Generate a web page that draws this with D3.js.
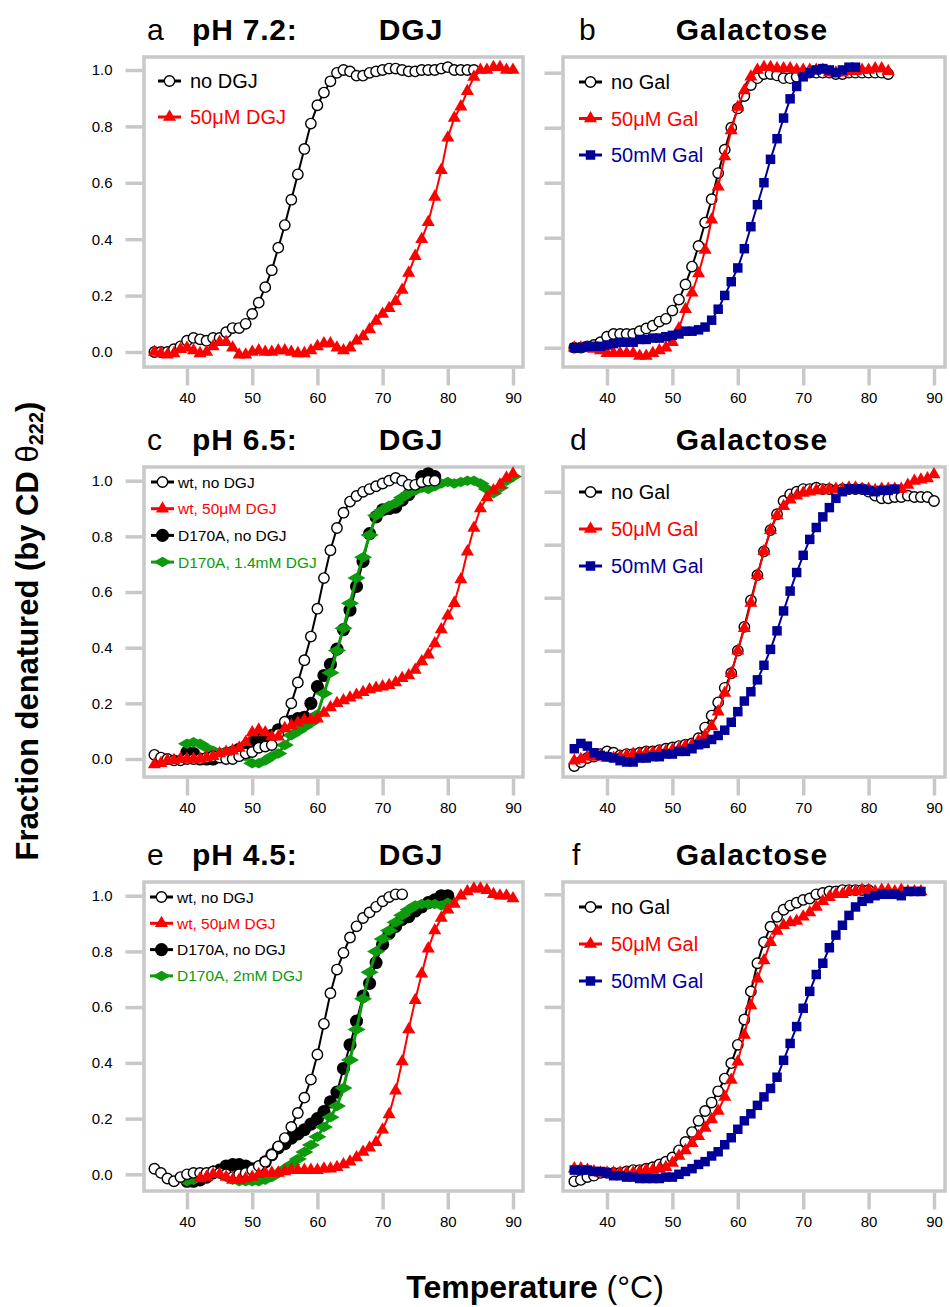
<!DOCTYPE html>
<html>
<head>
<meta charset="utf-8">
<script src="https://cdn.jsdelivr.net/npm/d3@7"></script>
<style>
  body { margin: 0; background: #fff; }
  svg { display: block; font-family: 'Liberation Sans', Arial, Helvetica, sans-serif; }
</style>
</head>
<body>
<svg id="chart" width="950" height="1307"></svg>
<script>
// Data: fraction denatured, one reading per degree C from the given start temperature

// a: pH 7.2, DGJ
const aNoDGJ = [0.00, 0.00, 0.00, 0.01, 0.02, 0.04, 0.05, 0.045, 0.04, 0.05,
  0.05, 0.07, 0.085, 0.085, 0.10, 0.135, 0.175, 0.23, 0.29, 0.37,
  0.45, 0.54, 0.63, 0.72, 0.81, 0.875, 0.92, 0.96, 0.99, 1.00,
  0.995, 0.98, 0.98, 0.99, 0.995, 1.00, 1.005, 1.005, 1.00, 0.995,
  0.995, 1.00, 1.00, 1.00, 1.005, 1.01, 1.00, 1.00, 1.00, 1.00]
const aDGJ50uM = [0.00, -0.005, -0.01, -0.005, 0.01, 0.015, 0.005, -0.005, 0.00, 0.02,
  0.035, 0.035, 0.015, -0.01, -0.01, 0.00, 0.005, 0.00, 0.00, 0.005,
  0.005, 0.00, -0.005, -0.005, 0.005, 0.02, 0.03, 0.03, 0.015, 0.005,
  0.015, 0.04, 0.055, 0.08, 0.11, 0.135, 0.155, 0.18, 0.22, 0.28,
  0.34, 0.40, 0.46, 0.55, 0.645, 0.76, 0.83, 0.87, 0.925, 0.975,
  1.00, 1.00, 1.01, 1.01, 1.00, 1.00]

// b: pH 7.2, galactose
const bNoGal = [0.00, 0.00, 0.005, 0.01, 0.02, 0.04, 0.05, 0.05, 0.05, 0.05,
  0.06, 0.07, 0.08, 0.095, 0.105, 0.135, 0.175, 0.23, 0.295, 0.37,
  0.455, 0.54, 0.635, 0.72, 0.80, 0.87, 0.915, 0.955, 0.98, 0.995,
  0.995, 0.99, 0.98, 0.98, 0.985, 0.995, 1.00, 1.00, 1.00, 1.00,
  0.995, 0.995, 1.00, 1.00, 1.00, 1.00, 1.00, 1.00, 0.995]
const bGal50uM = [0.00, 0.00, 0.00, -0.005, -0.01, -0.02, -0.02, -0.02, -0.02, -0.02,
  -0.03, -0.03, -0.02, -0.01, 0.00, 0.02, 0.07, 0.14, 0.20, 0.27,
  0.355, 0.465, 0.585, 0.695, 0.79, 0.875, 0.935, 0.985, 1.01, 1.02,
  1.02, 1.015, 1.015, 1.015, 1.01, 1.01, 1.01, 1.01, 1.01, 1.00,
  1.00, 1.00, 1.005, 1.005, 1.01, 1.01, 1.015, 1.015, 1.005]
const bGal50mM = [0.00, 0.00, 0.005, 0.005, 0.005, 0.01, 0.015, 0.02, 0.02, 0.02,
  0.03, 0.03, 0.035, 0.035, 0.04, 0.045, 0.05, 0.06, 0.06, 0.065,
  0.075, 0.10, 0.14, 0.19, 0.24, 0.29, 0.36, 0.44, 0.52, 0.60,
  0.685, 0.76, 0.835, 0.905, 0.95, 0.985, 1.00, 1.01, 1.015, 1.01,
  1.00, 1.01, 1.02, 1.02]

// c: pH 6.5, DGJ
const cWtNoDGJ = [0.015, 0.005, 0.00, -0.005, -0.005, 0.00, 0.00, 0.00, 0.005, 0.01,
  0.005, 0.00, 0.00, 0.01, 0.02, 0.025, 0.04, 0.045, 0.05, 0.09,
  0.134, 0.20, 0.275, 0.355, 0.44, 0.54, 0.65, 0.75, 0.83, 0.885,
  0.925, 0.945, 0.96, 0.97, 0.98, 0.99, 1.00, 1.01, 1.00, 0.985,
  0.985, 0.995, 1.00, 1.00]
const cWtDGJ50uM = [-0.02, -0.015, -0.005, -0.005, 0.00, 0.00, 0.00, 0.00, 0.005, 0.01,
  0.02, 0.025, 0.03, 0.04, 0.06, 0.095, 0.105, 0.095, 0.08, 0.08,
  0.11, 0.12, 0.13, 0.14, 0.14, 0.145, 0.165, 0.185, 0.20, 0.21,
  0.22, 0.23, 0.24, 0.25, 0.255, 0.26, 0.265, 0.275, 0.29, 0.30,
  0.32, 0.35, 0.375, 0.415, 0.465, 0.515, 0.56, 0.645, 0.745, 0.83,
  0.90, 0.94, 0.965, 0.985, 1.01, 1.025]
const cD170ANoDGJ = [0.025, 0.02, 0.00, 0.00, 0.00, 0.015, 0.02, 0.025, 0.035, 0.045,
  0.06, 0.07, 0.075, 0.085, 0.105, 0.12, 0.135, 0.145, 0.15, 0.20,
  0.26, 0.30, 0.34, 0.395, 0.465, 0.535, 0.62, 0.71, 0.81, 0.87,
  0.895, 0.90, 0.905, 0.93, 0.95, 0.975, 1.015, 1.025, 1.015]
const cD170ADGJ14mM = [0.055, 0.06, 0.055, 0.04, 0.03, 0.02, 0.025, 0.03, 0.025, 0.01,
  -0.015, -0.015, -0.005, 0.01, 0.02, 0.05, 0.085, 0.10, 0.115, 0.13,
  0.16, 0.235, 0.31, 0.39, 0.47, 0.56, 0.65, 0.725, 0.805, 0.875,
  0.895, 0.91, 0.92, 0.94, 0.955, 0.965, 0.975, 0.97, 0.98, 0.99,
  0.995, 0.99, 0.995, 1.00, 1.00, 0.99, 0.97, 0.955, 0.975, 1.00,
  1.015]

// d: pH 6.5, galactose
const dNoGal = [-0.035, -0.02, -0.005, 0.00, 0.01, 0.02, 0.015, 0.005, 0.01, 0.01,
  0.015, 0.02, 0.02, 0.025, 0.03, 0.035, 0.04, 0.045, 0.05, 0.07,
  0.11, 0.155, 0.205, 0.26, 0.315, 0.40, 0.49, 0.59, 0.685, 0.775,
  0.855, 0.915, 0.965, 0.99, 1.00, 1.01, 1.01, 1.015, 1.01, 1.01,
  1.005, 1.01, 1.01, 1.01, 1.01, 1.00, 0.985, 0.975, 0.975, 0.98,
  0.98, 0.985, 0.98, 0.98, 0.98, 0.965]
const dGal50uM = [-0.015, -0.01, 0.00, 0.00, 0.00, -0.005, -0.005, 0.00, 0.005, 0.01,
  0.01, 0.015, 0.015, 0.02, 0.02, 0.025, 0.03, 0.04, 0.045, 0.06,
  0.08, 0.115, 0.17, 0.24, 0.315, 0.40, 0.485, 0.58, 0.685, 0.775,
  0.855, 0.91, 0.945, 0.97, 0.985, 0.995, 1.00, 1.005, 1.005, 1.01,
  1.01, 1.01, 1.015, 1.015, 1.01, 1.01, 1.005, 1.01, 1.01, 1.01,
  1.01, 1.025, 1.04, 1.045, 1.05, 1.065]
const dGal50mM = [0.03, 0.05, 0.04, 0.015, 0.005, 0.00, -0.005, -0.015, -0.02, -0.02,
  -0.005, -0.005, 0.00, 0.00, 0.01, 0.01, 0.02, 0.02, 0.03, 0.045,
  0.05, 0.065, 0.08, 0.10, 0.13, 0.17, 0.21, 0.245, 0.29, 0.345,
  0.405, 0.475, 0.55, 0.625, 0.695, 0.76, 0.82, 0.865, 0.905, 0.94,
  0.975, 1.00, 1.01, 1.01, 1.01, 1.005, 1.00, 1.005, 1.005, 1.01]

// e: pH 4.5, DGJ
const eWtNoDGJ = [0.02, 0.005, -0.015, -0.025, -0.01, 0.00, 0.005, 0.005, 0.005, 0.01,
  0.005, 0.00, -0.01, 0.00, 0.005, 0.015, 0.03, 0.045, 0.07, 0.10,
  0.13, 0.17, 0.22, 0.275, 0.34, 0.43, 0.54, 0.65, 0.735, 0.795,
  0.85, 0.89, 0.92, 0.94, 0.96, 0.98, 0.995, 1.005, 1.005]
const eWtDGJ50uM = [-0.015, -0.01, 0.00, 0.00, -0.01, -0.02, -0.02, -0.015, -0.01, 0.00,
  0.005, 0.005, 0.005, 0.01, 0.015, 0.015, 0.015, 0.015, 0.015, 0.02,
  0.02, 0.025, 0.035, 0.045, 0.06, 0.08, 0.095, 0.115, 0.16, 0.215,
  0.30, 0.405, 0.52, 0.625, 0.72, 0.81, 0.875, 0.92, 0.95, 0.97,
  1.00, 1.015, 1.025, 1.025, 1.02, 1.005, 1.00, 1.00, 0.99]
const eD170ANoDGJ = [-0.025, -0.025, -0.02, -0.01, 0.005, 0.015, 0.03, 0.035, 0.035, 0.03,
  0.02, 0.02, 0.045, 0.07, 0.095, 0.11, 0.13, 0.145, 0.16, 0.18,
  0.20, 0.225, 0.26, 0.295, 0.38, 0.465, 0.55, 0.64, 0.685, 0.76,
  0.825, 0.865, 0.89, 0.915, 0.925, 0.945, 0.96, 0.975, 0.985, 1.00,
  1.00]
const eD170ADGJ2mM = [-0.025, -0.02, -0.01, 0.005, 0.015, 0.005, -0.01, -0.02, -0.025, -0.025,
  -0.025, -0.025, -0.02, -0.01, 0.005, 0.02, 0.035, 0.055, 0.08, 0.105,
  0.135, 0.17, 0.205, 0.245, 0.31, 0.41, 0.52, 0.63, 0.725, 0.80,
  0.845, 0.875, 0.905, 0.93, 0.95, 0.965, 0.97, 0.97, 0.97, 0.965,
  0.975]

// f: pH 4.5, galactose
const fNoGal = [-0.02, -0.015, -0.005, 0.00, 0.01, 0.01, 0.01, 0.01, 0.015, 0.02,
  0.02, 0.025, 0.03, 0.04, 0.05, 0.065, 0.09, 0.12, 0.155, 0.195,
  0.23, 0.26, 0.30, 0.345, 0.40, 0.465, 0.555, 0.655, 0.755, 0.83,
  0.885, 0.92, 0.945, 0.96, 0.97, 0.98, 0.985, 1.00, 1.005, 1.01,
  1.01, 1.015, 1.015, 1.015, 1.015, 1.015]
const fGal50uM = [0.025, 0.025, 0.02, 0.015, 0.01, 0.01, 0.01, 0.01, 0.01, 0.01,
  0.015, 0.02, 0.02, 0.025, 0.03, 0.045, 0.07, 0.09, 0.115, 0.14,
  0.17, 0.20, 0.23, 0.28, 0.34, 0.405, 0.50, 0.605, 0.70, 0.765,
  0.83, 0.87, 0.89, 0.90, 0.905, 0.92, 0.935, 0.955, 0.975, 0.99,
  1.00, 1.00, 1.01, 1.01, 1.015, 1.015, 1.01, 1.015, 1.015, 1.01,
  1.015, 1.01, 1.01, 1.01]
const fGal50mM = [0.02, 0.02, 0.02, 0.015, 0.015, 0.01, 0.00, 0.00, -0.005, -0.005,
  -0.01, -0.01, -0.01, -0.01, -0.005, -0.005, 0.005, 0.015, 0.025, 0.04,
  0.05, 0.07, 0.085, 0.11, 0.135, 0.165, 0.195, 0.22, 0.25, 0.28,
  0.31, 0.35, 0.41, 0.47, 0.53, 0.595, 0.655, 0.715, 0.755, 0.81,
  0.855, 0.89, 0.925, 0.955, 0.975, 0.985, 0.995, 1.00, 1.00, 1.00,
  0.995, 1.01, 1.01, 1.01]

const xTicks = [40, 50, 60, 70, 80, 90]
const yTicks = [0, 0.2, 0.4, 0.6, 0.8, 1.0]

// Styles

const red = '#ff0000'
const blue = '#000099'
const green = '#0d9a0d'
const gray = '#c8c8c8'

const markers = {
  open: {type: d3.symbolCircle, size: 85, fill: '#fff', stroke: '#000', sw: 1.4, color: '#000'},
  dot: {type: d3.symbolCircle, size: 135, fill: '#000', stroke: 'none', sw: 0, color: '#000'},
  tri: {type: d3.symbolTriangle, size: 74, fill: red, stroke: 'none', sw: 0, color: red},
  sq: {type: d3.symbolSquare, size: 90, fill: blue, stroke: 'none', sw: 0, color: blue},
  dia: {type: d3.symbolDiamond, size: 95, fill: green, stroke: 'none', sw: 0, color: green, rot: 90}
}

// Layout

const cols = [
  {box: [144, 523], range: [187, 513]},
  {box: [563, 945], range: [607, 934]}
]
const rows = [[57, 367], [467, 777], [882, 1191]]

const panels = [
  {col: 0, row: 0, yr: [352, 70], letter: 'a', lx: 147, ph: 'pH 7.2:', ligand: 'DGJ',
    legend: {x: 158, y0: 81, dy: 36, font: 20},
    series: [
      {name: 'no DGJ', t0: 35, v: aNoDGJ, m: 'open'},
      {name: '50μM DGJ', t0: 35, v: aDGJ50uM, m: 'tri'}]},
  {col: 1, row: 0, yr: [347.7, 72.7], letter: 'b', lx: 579, ligand: 'Galactose',
    legend: {x: 579, y0: 82, dy: 36.5, font: 20},
    series: [
      {name: 'no Gal', t0: 35, v: bNoGal, m: 'open'},
      {name: '50μM Gal', t0: 35, v: bGal50uM, m: 'tri'},
      {name: '50mM Gal', t0: 35, v: bGal50mM, m: 'sq'}]},
  {col: 0, row: 1, yr: [759, 480.7], letter: 'c', lx: 147, ph: 'pH 6.5:', ligand: 'DGJ',
    legend: {x: 151, y0: 482, dy: 26.7, font: 15.5},
    series: [
      {name: 'wt, no DGJ', t0: 35, v: cWtNoDGJ, m: 'open'},
      {name: 'wt, 50μM DGJ', t0: 35, v: cWtDGJ50uM, m: 'tri'},
      {name: 'D170A, no DGJ', t0: 40, v: cD170ANoDGJ, m: 'dot'},
      {name: 'D170A, 1.4mM DGJ', t0: 40, v: cD170ADGJ14mM, m: 'dia'}],
    order: [2, 3, 0, 1]},
  {col: 1, row: 1, yr: [756.7, 491.7], letter: 'd', lx: 570, ligand: 'Galactose',
    legend: {x: 579, y0: 492, dy: 37, font: 20},
    series: [
      {name: 'no Gal', t0: 35, v: dNoGal, m: 'open'},
      {name: '50μM Gal', t0: 35, v: dGal50uM, m: 'tri'},
      {name: '50mM Gal', t0: 35, v: dGal50mM, m: 'sq'}]},
  {col: 0, row: 2, yr: [1174.3, 895.7], letter: 'e', lx: 147, ph: 'pH 4.5:', ligand: 'DGJ',
    legend: {x: 150, y0: 897, dy: 26.3, font: 15.5},
    series: [
      {name: 'wt, no DGJ', t0: 35, v: eWtNoDGJ, m: 'open'},
      {name: 'wt, 50μM DGJ', t0: 42, v: eWtDGJ50uM, m: 'tri'},
      {name: 'D170A, no DGJ', t0: 40, v: eD170ANoDGJ, m: 'dot'},
      {name: 'D170A, 2mM DGJ', t0: 40, v: eD170ADGJ2mM, m: 'dia'}],
    order: [2, 3, 0, 1]},
  {col: 1, row: 2, yr: [1175.7, 894.3], letter: 'f', lx: 572, ligand: 'Galactose',
    legend: {x: 579, y0: 907, dy: 37, font: 20},
    series: [
      {name: 'no Gal', t0: 35, v: fNoGal, m: 'open'},
      {name: '50μM Gal', t0: 35, v: fGal50uM, m: 'tri'},
      {name: '50mM Gal', t0: 35, v: fGal50mM, m: 'sq'}]}
]

const svg = d3.select('#chart')

const drawMarker = (g, key, x, y) => {
  const m = markers[key]
  g.append('path')
    .attr('d', d3.symbol(m.type, m.size)())
    .attr('transform', `translate(${x},${y})` + (m.rot ? ` rotate(${m.rot})` : ''))
    .attr('fill', m.fill)
    .attr('stroke', m.stroke)
    .attr('stroke-width', m.sw)
}

const drawPanel = (p) => {
  const col = cols[p.col]
  const [top, bottom] = rows[p.row]
  const x = d3.scaleLinear().domain([40, 90]).range(col.range)
  const y = d3.scaleLinear().domain([0, 1]).range(p.yr)
  const g = svg.append('g')

  // frame
  g.append('rect')
    .attr('x', col.box[0])
    .attr('y', top)
    .attr('width', col.box[1] - col.box[0])
    .attr('height', bottom - top)
    .attr('fill', 'none')
    .attr('stroke', gray)
    .attr('stroke-width', 3.5)

  // axes
  const yAxis = d3.axisLeft(y)
    .tickValues(yTicks)
    .tickSize(17)
    .tickPadding(13)
    .tickFormat(p.col === 0 ? d3.format('.1f') : '')
  const ya = g.append('g')
    .attr('transform', `translate(${col.box[0] - 1.5},0)`)
    .call(yAxis)
  const xAxis = d3.axisBottom(x)
    .tickValues(xTicks)
    .tickSize(17)
    .tickPadding(7)
  const xa = g.append('g')
    .attr('transform', `translate(0,${bottom + 1.5})`)
    .call(xAxis)
  for (const a of [ya, xa]) {
    a.select('.domain').remove()
    a.selectAll('line').attr('stroke', gray).attr('stroke-width', 3.5)
    a.selectAll('text').attr('fill', '#000').style('font-size', '15px')
      .style('font-family', "'Liberation Sans', Arial, sans-serif")
  }

  // title
  const title = g.append('text')
    .attr('y', top - 17)
    .style('font-size', '30px')
  title.append('tspan').attr('x', p.lx).text(p.letter)
  if (p.ph) {
    title.append('tspan').attr('x', 192).attr('font-weight', 'bold')
      .style('letter-spacing', '0.8px').text(p.ph)
  }
  g.append('text')
    .attr('x', p.col === 0 ? 411 : 752)
    .attr('y', top - 17)
    .attr('text-anchor', 'middle')
    .attr('font-weight', 'bold')
    .style('font-size', '30px')
    .style('letter-spacing', '1px')
    .text(p.ligand)

  // series
  const order = p.order || d3.range(p.series.length)
  const line = d3.line().x((d) => x(d.t)).y((d) => y(d.v))
  for (const i of order) {
    const s = p.series[i]
    const m = markers[s.m]
    const pts = s.v.map((v, j) => ({t: s.t0 + j, v}))
    const sg = g.append('g')
    sg.append('path')
      .datum(pts)
      .attr('d', line)
      .attr('fill', 'none')
      .attr('stroke', m.color)
      .attr('stroke-width', s.m === 'dia' ? 3 : 2)
    pts.forEach((d) => drawMarker(sg, s.m, x(d.t), y(d.v)))
  }

  // legend
  const L = p.legend
  p.series.forEach((s, i) => {
    const m = markers[s.m]
    const ly = L.y0 + i * L.dy
    g.append('line')
      .attr('x1', L.x).attr('x2', L.x + 23)
      .attr('y1', ly).attr('y2', ly)
      .attr('stroke', m.color)
      .attr('stroke-width', 3)
    drawMarker(g, s.m, L.x + 11.5, ly)
    g.append('text')
      .attr('x', L.x + (L.font > 18 ? 32 : 27))
      .attr('y', ly)
      .attr('dy', '0.36em')
      .attr('fill', m.color)
      .style('font-size', L.font + 'px')
      .text(s.name)
  })
}

panels.forEach(drawPanel)

// shared axis titles
const yt = svg.append('text')
  .attr('transform', 'translate(38,631) rotate(-90)')
  .attr('text-anchor', 'middle')
  .style('font-size', '31px')
yt.append('tspan').attr('font-weight', 'bold').text('Fraction denatured (by CD ')
yt.append('tspan').text('θ')
yt.append('tspan').attr('font-weight', 'bold').attr('baseline-shift', '-25%')
  .style('font-size', '20px').text('222')
yt.append('tspan').attr('font-weight', 'bold').text(')')

const xt = svg.append('text')
  .attr('x', 535)
  .attr('y', 1298)
  .attr('text-anchor', 'middle')
  .style('font-size', '32px')
xt.append('tspan').attr('font-weight', 'bold').text('Temperature')
xt.append('tspan').text(' (°C)')
</script>
</body>
</html>
